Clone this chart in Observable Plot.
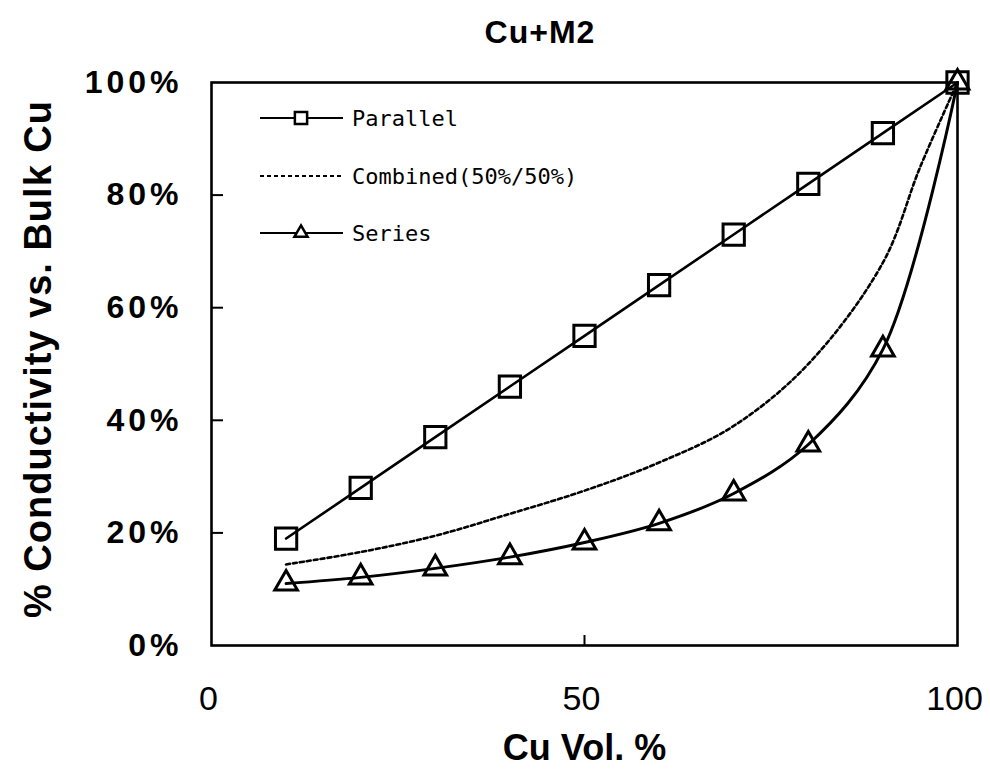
<!DOCTYPE html>
<html>
<head>
<meta charset="utf-8">
<script src="https://cdn.jsdelivr.net/npm/d3@7"></script>
<script src="https://cdn.jsdelivr.net/npm/@observablehq/plot@0.6"></script>
<style>
  body { margin: 0; background: #fff; }
  #wrap { position: relative; width: 990px; height: 773px; overflow: hidden; }
  #title { position: absolute; left: 390px; width: 300px; top: 16px; text-align: center;
           font: bold 32px "Liberation Sans", Arial, sans-serif; line-height: 32px; letter-spacing: 1px; color: #000; }
  #legend { position: absolute; left: 0; top: 0; }
</style>
</head>
<body>
<div id="wrap"><div id="title">Cu+M2</div></div>
<script>
// ---- data ----
const cuVol = [10, 20, 30, 40, 50, 60, 70, 80, 90, 100];
const parallelVals = [0.19, 0.28, 0.37, 0.46, 0.55, 0.64, 0.73, 0.82, 0.91, 1.00];
const seriesVals = [0.11, 0.121, 0.137, 0.157, 0.183, 0.217, 0.27, 0.357, 0.526, 1.00];
const combinedX = [10, 20, 30, 40, 50, 60, 70, 80, 90, 95, 100];
const combinedVals = [0.144, 0.166, 0.195, 0.234, 0.275, 0.325, 0.39, 0.50, 0.68, 0.85, 1.00];
const yTicks = [0, 0.2, 0.4, 0.6, 0.8, 1.0];
const yInnerTicks = [0.2, 0.4, 0.6, 0.8];
const xTicks = [0, 50, 100];
const xInnerTicks = [50];
const seriesNames = ["Parallel", "Combined(50%/50%)", "Series"];
const xLabel = "Cu Vol. %";
const yLabel = "% Conductivity vs. Bulk Cu";

// ---- tables ----
const parallel = cuVol.map((x, i) => ({x, y: parallelVals[i]}));
const series = cuVol.map((x, i) => ({x, y: seriesVals[i]}));
const combined = combinedX.map((x, i) => ({x, y: combinedVals[i]}));

const W = 990, H = 773;
const mL = 211, mR = 33, mT = 82, mB = 128;
const pw = W - mL - mR, ph = H - mT - mB;
const boldFont = '"Liberation Sans", Arial, sans-serif';

const chart = Plot.plot({
  width: W, height: H,
  marginLeft: mL, marginRight: mR, marginTop: mT, marginBottom: mB,
  x: {domain: [0, 100]},
  y: {domain: [0, 1]},
  style: {background: "white", color: "black", overflow: "visible"},
  marks: [
    Plot.tickY(yInnerTicks, {y: d => d, insetRight: pw - 12, stroke: "black", strokeWidth: 2}),
    Plot.tickX(xInnerTicks, {x: d => d, insetTop: ph - 10, stroke: "black", strokeWidth: 2}),
    Plot.axisY(yTicks, {tickSize: 0, tickPadding: 29, tickFormat: d3.format(".0%"),
      fontSize: 32, fontWeight: "bold", fontFamily: boldFont, label: null}),
    Plot.axisX(xTicks, {tickSize: 0, tickPadding: 40, dx: -3, tickFormat: d => String(d),
      fontSize: 34, fontFamily: boldFont, label: null}),
    Plot.line(combined, {x: "x", y: "y", curve: "catmull-rom", stroke: "black",
      strokeWidth: 2.6, strokeDasharray: "4,3"}),
    Plot.line(parallel, {x: "x", y: "y", stroke: "black", strokeWidth: 2.6}),
    Plot.line(series, {x: "x", y: "y", curve: "catmull-rom", stroke: "black", strokeWidth: 3}),
    Plot.dot(parallel, {x: "x", y: "y", symbol: "square", r: 12, stroke: "black", strokeWidth: 3, fill: "none"}),
    Plot.dot(series, {x: "x", y: "y", symbol: "triangle", r: 8.4, stroke: "black", strokeWidth: 3, fill: "none"}),
    Plot.frame({stroke: "black", strokeWidth: 2.6}),
    Plot.text([xLabel], {text: d => d, frameAnchor: "bottom", dy: 103, fontSize: 36,
      fontWeight: "bold", fontFamily: boldFont, lineAnchor: "middle", textAnchor: "middle"}),
    Plot.text([yLabel], {text: d => d, frameAnchor: "left", dx: -173, dy: -5, rotate: -90,
      fontSize: 38, fontWeight: "bold", fontFamily: boldFont, lineAnchor: "middle", textAnchor: "middle"})
  ]
});
const wrap = document.getElementById("wrap");
wrap.insertBefore(chart, wrap.firstChild);

// letter spacing tweaks
d3.select(chart).selectAll('g[aria-label="y-axis tick label"] text').style("letter-spacing", "4px");
d3.select(chart).selectAll('text').filter(function() { return this.textContent === yLabel; }).style("letter-spacing", "1px");

// ---- legend (inside plot area, upper left) ----
const lg = d3.select(wrap).append("svg").attr("id", "legend").attr("width", W).attr("height", H);
const legendRows = [
  {name: seriesNames[0], y: 118, dash: null, sym: d3.symbolSquare, size: 150, sw: 2},
  {name: seriesNames[1], y: 176, dash: "4,3", sym: null, sw: 2.2},
  {name: seriesNames[2], y: 233, dash: null, sym: d3.symbolTriangle, size: 75, sw: 2.2}
];
const x0 = 260, x1 = 343, xm = 301;
legendRows.forEach(r => {
  lg.append("line").attr("x1", x0).attr("x2", x1).attr("y1", r.y).attr("y2", r.y)
    .attr("stroke", "black").attr("stroke-width", r.sw).attr("stroke-dasharray", r.dash);
  if (r.sym) {
    lg.append("path").attr("d", d3.symbol(r.sym, r.size)()).attr("transform", `translate(${xm},${r.y})`)
      .attr("fill", "white").attr("stroke", "black").attr("stroke-width", 2.5);
  }
  lg.append("text").attr("x", 352).attr("y", r.y + 8).text(r.name)
    .attr("font-family", '"DejaVu Sans Mono", monospace').attr("font-size", 22).attr("fill", "black");
});
</script>
</body>
</html>
